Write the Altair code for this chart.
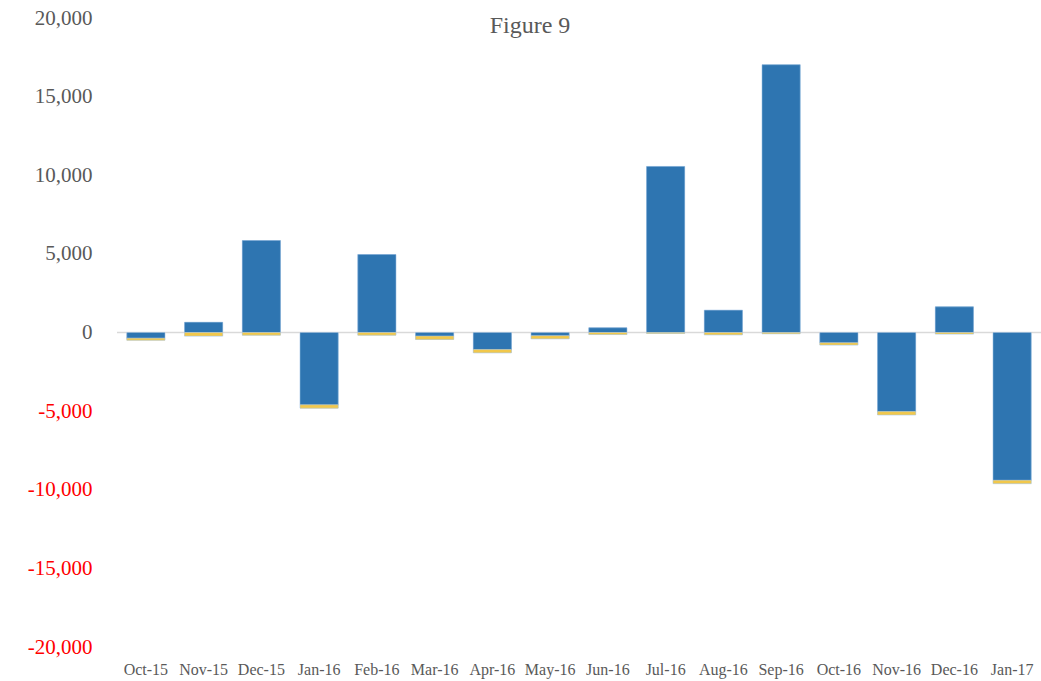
import altair as alt
import pandas as pd

months = ["Oct-15", "Nov-15", "Dec-15", "Jan-16", "Feb-16", "Mar-16", "Apr-16", "May-16",
          "Jun-16", "Jul-16", "Aug-16", "Sep-16", "Oct-16", "Nov-16", "Dec-16", "Jan-17"]
blue_vals = [-360, 650, 5850, -4600, 4960, -230, -1080, -200,
             300, 10560, 1420, 17030, -650, -5030, 1630, -9400]
yellow_vals = [-130, -230, -170, -210, -170, -210, -210, -200,
               -130, -60, -150, -80, -150, -210, -100, -210]
y_ticks = [-20000, -15000, -10000, -5000, 0, 5000, 10000, 15000, 20000]

rows = []
for m, b, y in zip(months, blue_vals, yellow_vals):
    rows.append({"month": m, "series": "A", "value": b, "ord": 0})
    rows.append({"month": m, "series": "B", "value": y, "ord": 1})
df = pd.DataFrame(rows)

FONT = "Liberation Serif"
GRAY = "#595959"

x_enc = alt.X("month:N", sort=months,
              scale=alt.Scale(paddingInner=0.34, paddingOuter=0.17),
              axis=alt.Axis(title=None, labelAngle=0, domain=False, ticks=False,
                            labelFont=FONT, labelFontSize=16, labelColor=GRAY,
                            labelPadding=14))
y_scale = alt.Scale(domain=[-20000, 20000], nice=False, zero=True)
y_axis = alt.Axis(title=None, values=y_ticks, grid=False,
                  labelExpr="replace(format(datum.value, ','), '\u2212', '-')",
                  domain=False, ticks=False, labelFont=FONT, labelFontSize=21,
                  labelColor=alt.expr("datum.value < 0 ? '#FF0000' : '#595959'"),
                  labelPadding=25)

bars = alt.Chart(df).mark_bar(stroke="#A9C8E8", strokeWidth=0.6, strokeOpacity=0.7).encode(
    x=x_enc,
    y=alt.Y("value:Q", stack="zero", scale=y_scale, axis=y_axis),
    color=alt.Color("series:N", scale=alt.Scale(domain=["A", "B"], range=["#2E75B1", "#F2C84B"]),
                    legend=None),
    order=alt.Order("ord:Q"),
)

zero_df = pd.DataFrame({"v": [0]})
zero_line = alt.Chart(zero_df).mark_rule(color="#D9D9D9", strokeWidth=1.5).encode(
    y=alt.Y("v:Q", scale=y_scale, axis=y_axis)
)

chart = alt.layer(bars, zero_line, bars).properties(
    width=924, height=629,
    title=alt.TitleParams("Figure 9", font=FONT, fontSize=24, fontWeight="normal",
                          color=GRAY, anchor="middle", offset=-31, dx=-49),
    autosize=alt.AutoSizeParams(type="none"),
    padding={"left": 117, "top": 18, "right": 0, "bottom": 34},
).configure_view(stroke=None)

chart.save("out.html", embed_options={"renderer": "svg", "actions": False})
